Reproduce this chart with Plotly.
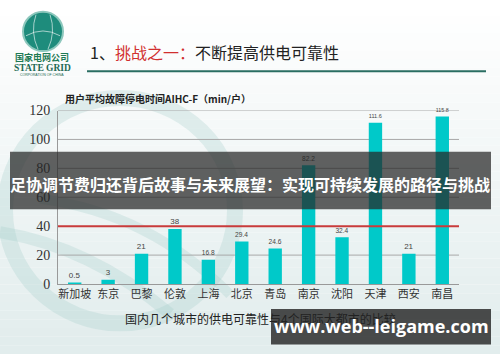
import plotly.graph_objects as go

# ---- data ----
cities = ["新加坡", "东京", "巴黎", "伦敦", "上海", "北京", "青岛", "南京", "沈阳", "天津", "西安", "南昌"]
aihc_f = [0.5, 3, 21, 38, 16.8, 29.4, 24.6, 82.2, 32.4, 111.6, 21, 115.8]
value_labels = ["0.5", "3", "21", "38", "16.8", "29.4", "24.6", "82.2", "32.4", "111.6", "21", "115.8"]
y_ticks = [0, 20, 40, 60, 80, 100, 120]
reference_line = 40

W, H = 500, 362


def px(x):
    return x / W


def py(y):
    return 1 - y / H


fig = go.Figure()
fig.add_trace(go.Bar(
    x=cities, y=aihc_f,
    marker=dict(color="#00C9C9", line=dict(width=0)),
    width=0.4,
    text=value_labels, textposition="outside",
    textfont=dict(size=8, color="#444", family="Liberation Sans"),
    cliponaxis=False,
    hoverinfo="skip",
))

shapes = []
# background gradient
n = 40
top = (255, 255, 255)
bot = (226, 237, 237)
for i in range(n):
    t = i / (n - 1)
    c = tuple(int(top[k] + (bot[k] - top[k]) * t) for k in range(3))
    shapes.append(dict(type="rect", xref="paper", yref="paper",
                       x0=0, x1=1, y0=py(H * (i + 1) / n), y1=py(H * i / n),
                       fillcolor="rgb(%d,%d,%d)" % c, line=dict(width=0), layer="below"))

# decorative globe arcs
arc_col = "rgba(160,205,200,0.28)"
shapes.append(dict(type="circle", xref="paper", yref="paper",
                   x0=px(5), x1=px(235), y0=py(330), y1=py(95),
                   line=dict(color=arc_col, width=16), layer="below"))
shapes.append(dict(type="path", xref="paper", yref="paper",
                   path="M %f %f Q %f %f %f %f" % (px(0), py(235), px(90), py(250), px(170), py(320)),
                   line=dict(color=arc_col, width=12), layer="below"))
shapes.append(dict(type="path", xref="paper", yref="paper",
                   path="M %f %f Q %f %f %f %f" % (px(40), py(200), px(150), py(215), px(230), py(300)),
                   line=dict(color=arc_col, width=10), layer="below"))

# logo globe
shapes.append(dict(type="circle", xref="paper", yref="paper",
                   x0=px(23), x1=px(63), y0=py(46), y1=py(5),
                   fillcolor="#1E8C7C", line=dict(color="#8CC7BC", width=2)))
shapes.append(dict(type="path", xref="paper", yref="paper",
                   path="M %f %f Q %f %f %f %f" % (px(26), py(30), px(43), py(20), px(60), py(30)),
                   line=dict(color="rgba(255,255,255,0.6)", width=1)))
shapes.append(dict(type="path", xref="paper", yref="paper",
                   path="M %f %f Q %f %f %f %f" % (px(36), py(8), px(30), py(26), px(38), py(44)),
                   line=dict(color="rgba(255,255,255,0.6)", width=1)))
shapes.append(dict(type="path", xref="paper", yref="paper",
                   path="M %f %f Q %f %f %f %f" % (px(50), py(8), px(56), py(26), px(48), py(44)),
                   line=dict(color="rgba(255,255,255,0.6)", width=1)))

# header underline
shapes.append(dict(type="line", xref="paper", yref="paper",
                   x0=px(87), x1=px(486), y0=py(67), y1=py(67),
                   line=dict(color="#2A6E62", width=2)))

# gridlines (except the red reference line)
for v in y_ticks[1:]:
    if v == reference_line:
        continue
    shapes.append(dict(type="line", xref="x domain", yref="y",
                       x0=0, x1=1, y0=v, y1=v,
                       line=dict(color="#A8A8A8", width=1), layer="below"))
# red line
shapes.append(dict(type="line", xref="x domain", yref="y",
                   x0=0, x1=1, y0=reference_line, y1=reference_line,
                   line=dict(color="#C93B3B", width=2)))

# dark banner
shapes.append(dict(type="rect", xref="paper", yref="paper",
                   x0=px(10), x1=px(491), y0=py(211), y1=py(151),
                   fillcolor="rgba(38,38,38,0.72)", line=dict(width=0), layer="above"))
# watermark box
shapes.append(dict(type="rect", xref="paper", yref="paper",
                   x0=px(271), x1=px(491), y0=py(352), y1=py(315),
                   fillcolor="rgba(38,38,38,0.82)", line=dict(width=0), layer="above"))

cjk = "Noto Sans CJK SC"
annotations = [
    dict(text="<b>国家电网公司</b>", x=px(42), y=py(52.5), font=dict(size=9, color="#1E7A55", family=cjk)),
    dict(text="<b>STATE GRID</b>", x=px(42), y=py(63.5), font=dict(size=9.5, color="#1E6A55", family="Liberation Serif")),
    dict(text="CORPORATION OF CHINA", x=px(42), y=py(70.5), font=dict(size=3.5, color="#1E6A55", family="Liberation Sans")),
    dict(text="1、<span style='color:#D12F2F'>挑战之一：</span>不断提高供电可靠性",
         x=px(88), y=py(47), xanchor="left", font=dict(size=16, color="#222", family=cjk)),
    dict(text="<b>用户平均故障停电时间AIHC-F（min/户）</b>", x=px(63), y=py(95), xanchor="left",
         font=dict(size=10, color="#222", family=cjk)),
    dict(text="<b>足协调节费归还背后故事与未来展望：实现可持续发展的路径与挑战</b>",
         x=px(250), y=py(185), font=dict(size=16, color="white", family=cjk)),
    dict(text="国内几个城市的供电可靠性与4个国际大都市的比较", x=px(260), y=py(325),
         font=dict(size=12, color="#222", family=cjk)),
    dict(text="<b>www.web--leigame.com</b>", x=px(381), y=py(333),
         font=dict(size=18, color="white", family="Open Sans")),
]
for a in annotations:
    a.update(xref="paper", yref="paper", showarrow=False)
    a.setdefault("xanchor", "center")
    a.setdefault("yanchor", "middle")

fig.update_layout(
    width=W, height=H,
    margin=dict(l=0, r=0, t=0, b=0),
    paper_bgcolor="white",
    plot_bgcolor="rgba(0,0,0,0)",
    showlegend=False,
    shapes=shapes,
    annotations=annotations,
    xaxis=dict(domain=[px(58), px(459)], showgrid=False, showline=True,
               linecolor="#999", linewidth=1, ticks="",
               tickfont=dict(size=11, color="#333", family=cjk), fixedrange=True),
    yaxis=dict(domain=[py(289), py(108)], range=[0, 120], tickvals=y_ticks,
               showgrid=False, zeroline=False, showline=True, linecolor="#999", linewidth=1,
               ticks="", tickfont=dict(size=14, color="#333", family="Liberation Serif"),
               ticklabelstandoff=4, fixedrange=True),
)

fig.write_html("out.html", config={"displayModeBar": False},
               post_script="document.body.style.margin='0';")
